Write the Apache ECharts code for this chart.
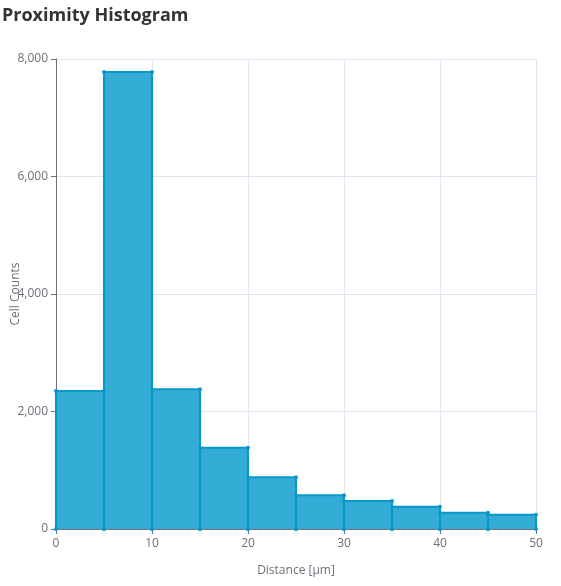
<!DOCTYPE html>
<html>
<head>
<meta charset="utf-8">
<script src="https://cdn.jsdelivr.net/npm/echarts@6/dist/echarts.min.js"></script>
<style>
html,body{margin:0;padding:0;background:#fff;}
#chart{width:561px;height:586px;}
</style>
</head>
<body>
<div id="chart"></div>
<script>
var binEdges = [0, 5, 10, 15, 20, 25, 30, 35, 40, 45, 50];
var cellCounts = [2350, 7780, 2380, 1385, 880, 575, 478, 380, 278, 244];
var xTicks = [0, 10, 20, 30, 40, 50];
var yTicks = [0, 2000, 4000, 6000, 8000];

var stepData = [];
for (var i = 0; i < cellCounts.length; i++) {
  stepData.push([binEdges[i], 0]);
  stepData.push([binEdges[i], cellCounts[i]]);
  stepData.push([binEdges[i + 1], cellCounts[i]]);
  stepData.push([binEdges[i + 1], 0]);
}

var chart = echarts.init(document.getElementById('chart'), null, {renderer: 'canvas'});
var font = '"Open Sans", "Segoe UI", sans-serif';
chart.setOption({
  animation: false,
  backgroundColor: '#fff',
  title: {
    text: 'Proximity Histogram',
    left: -3, top: 2,
    textStyle: {fontFamily: font, fontSize: 18, fontWeight: 'bold', color: '#333'}
  },
  grid: {left: 56, right: 25, top: 59, bottom: 57, containLabel: false, outerBoundsMode: 'none'},
  xAxis: {
    type: 'value',
    min: xTicks[0], max: xTicks[xTicks.length - 1], interval: 10,
    name: 'Distance [μm]', nameLocation: 'middle', nameGap: 36, nameMoveOverlap: false,
    nameTextStyle: {fontFamily: font, fontSize: 12, color: '#6e7079'},
    axisLine: {show: true, lineStyle: {color: '#6e7079'}},
    axisTick: {show: true, length: 5, lineStyle: {color: '#6e7079'}},
    axisLabel: {fontFamily: font, fontSize: 12, color: '#6e7079', margin: 9},
    splitLine: {show: true, lineStyle: {color: '#e0e6f1'}}
  },
  yAxis: {
    type: 'value',
    min: yTicks[0], max: yTicks[yTicks.length - 1], interval: 2000,
    name: 'Cell Counts', nameLocation: 'middle', nameGap: 34, nameMoveOverlap: false,
    nameTextStyle: {fontFamily: font, fontSize: 12, color: '#6e7079'},
    axisLine: {show: true, lineStyle: {color: '#6e7079'}},
    axisTick: {show: true, length: 5, lineStyle: {color: '#6e7079'}},
    axisLabel: {
      fontFamily: font, fontSize: 12, color: '#6e7079', margin: 8,
      formatter: function (v) { return v.toLocaleString('en-US'); }
    },
    splitLine: {show: true, lineStyle: {color: '#e0e6f1'}}
  },
  series: [{
    type: 'line',
    data: stepData,
    symbol: 'circle',
    symbolSize: 4,
    showAllSymbol: true,
    itemStyle: {color: '#0898cc'},
    lineStyle: {color: '#0898cc', width: 2},
    areaStyle: {color: '#0099cc', opacity: 0.8},
    z: 2
  }]
});
</script>
</body>
</html>
